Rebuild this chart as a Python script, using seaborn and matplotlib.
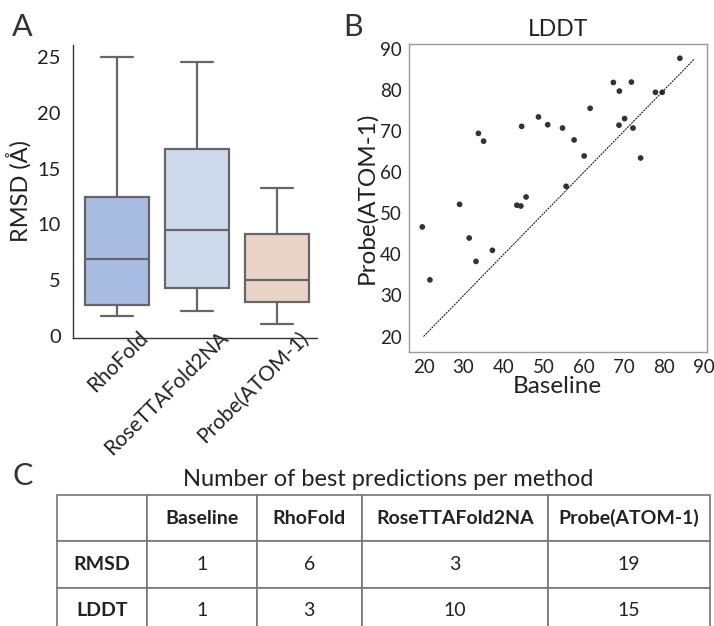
import numpy as np
import pandas as pd
import matplotlib
matplotlib.use("Agg")
import matplotlib.pyplot as plt
import matplotlib.transforms as mtransforms
import seaborn as sns

# Panel A: RMSD box summary (min, q1, median, q3, max)
methods = ["RhoFold", "RoseTTAFold2NA", "Probe(ATOM-1)"]
rhofold_rmsd = [1.8, 2.8, 6.9, 12.5, 25.0]
rosetta_rmsd = [2.25, 4.3, 9.5, 16.8, 24.55]
probe_rmsd = [1.1, 3.05, 5.0, 9.15, 13.3]
box_colors = ["#a8bde1", "#ccdaeb", "#e9d4c7"]

# Panel B: LDDT, baseline vs probe
baseline_lddt = [19.7, 21.6, 29.0, 31.4, 33.1, 33.7, 35.0, 37.2, 43.3, 44.3,
                 44.5, 45.6, 48.7, 51.0, 54.7, 55.6, 57.6, 60.1, 61.6, 67.4,
                 68.9, 68.8, 70.2, 71.9, 72.3, 74.2, 77.9, 79.6, 84.0]
probe_lddt = [46.7, 33.8, 52.2, 44.0, 38.3, 69.5, 67.6, 41.0, 52.0, 51.8,
              71.2, 54.0, 73.5, 71.6, 70.8, 56.6, 67.9, 64.0, 75.6, 81.9,
              79.8, 71.5, 73.1, 82.0, 70.8, 63.5, 79.5, 79.5, 87.8]

# Panel C: table
table_cols = ["Baseline", "RhoFold", "RoseTTAFold2NA", "Probe(ATOM-1)"]
table_rows = ["RMSD", "LDDT"]
rmsd_best = [1, 6, 3, 19]
lddt_best = [1, 3, 10, 15]

sns.set_style("white")
plt.rcParams["font.family"] = ["Lato", "DejaVu Sans"]
text_c = "#222222"

fig = plt.figure(figsize=(7.14, 6.26), dpi=100)
W, H = 714, 626

def px_axes(l, t, r, b):
    return fig.add_axes([l / W, 1 - b / H, (r - l) / W, (b - t) / H])

# ---- A ----
axA = px_axes(72.7, 45, 317, 338)
df = pd.DataFrame({
    "method": np.repeat(methods, 5),
    "rmsd": rhofold_rmsd + rosetta_rmsd + probe_rmsd,
})
line_c = "#666666"
sns.boxplot(data=df, x="method", y="rmsd", hue="method", palette=box_colors,
            legend=False, width=0.8, whis=np.inf, linewidth=1.6,
            linecolor=line_c, saturation=1, ax=axA)
axA.set_xlim(-0.55, 2.5)
axA.set_ylim(-0.2, 26.1)
axA.set_yticks([0, 5, 10, 15, 20, 25])
axA.set_xlabel("")
axA.set_ylabel("RMSD (Å)", fontsize=17, color=text_c, labelpad=4)
sns.despine(ax=axA)
for s in ["left", "bottom"]:
    axA.spines[s].set_color("#333333")
    axA.spines[s].set_linewidth(1.0)
axA.tick_params(axis="both", direction="out", length=5, width=1,
                color="#333333", labelcolor=text_c)
axA.tick_params(axis="y", labelsize=14.5)
axA.tick_params(axis="x", labelsize=15)
offset = mtransforms.ScaledTranslation(21 / 100, 22 / 100, fig.dpi_scale_trans)
for lab in axA.get_xticklabels():
    lab.set_rotation(45)
    lab.set_ha("right")
    lab.set_rotation_mode("anchor")
    lab.set_transform(lab.get_transform() + offset)

# ---- B ----
axB = px_axes(408.7, 44.3, 706.7, 351.7)
sns.scatterplot(x=baseline_lddt, y=probe_lddt, color="#333333", s=17,
                edgecolor="none", ax=axB)
axB.plot([20, 87.5], [20, 87.5], color="black", lw=0.7, ls=(0, (2, 1)))
axB.set_xlim(16.3, 90.7)
axB.set_ylim(16.3, 91.2)
axB.set_xticks(range(20, 91, 10))
axB.set_yticks(range(20, 91, 10))
for s in axB.spines.values():
    s.set_color("#999999")
    s.set_linewidth(1.0)
axB.tick_params(axis="both", direction="out", length=3, width=0.8,
                color="#999999", labelsize=13.5, labelcolor=text_c, pad=2)
axB.set_title("LDDT", fontsize=16.5, color=text_c, pad=6)
axB.set_xlabel("Baseline", fontsize=17.5, color=text_c, labelpad=0)
axB.set_ylabel("Probe(ATOM-1)", fontsize=17.5, color=text_c, labelpad=2)

# ---- C ----
axC = px_axes(57.3, 495, 710, 634)
axC.axis("off")
cell_text = [[""] + table_cols,
             [table_rows[0]] + [str(v) for v in rmsd_best],
             [table_rows[1]] + [str(v) for v in lddt_best]]
widths = np.array([89.4, 110, 105, 186.6, 161.7])
tab = axC.table(cellText=cell_text, colWidths=list(widths / widths.sum()),
                cellLoc="center", bbox=[0, 0, 1, 1])
tab.auto_set_font_size(False)
for (r, c), cell in tab.get_celld().items():
    cell.set_edgecolor("#777777")
    cell.set_linewidth(1.2)
    cell.get_text().set_color(text_c)
    cell.get_text().set_fontsize(14)
    if r == 0 or c == 0:
        cell.get_text().set_fontweight("bold")

fig.text(388 / W, 1 - 480 / H, "Number of best predictions per method",
         ha="center", va="center", fontsize=17, color=text_c)

# panel letters
for lab, x, y in [("A", 22, 27), ("B", 353, 27), ("C", 23, 476)]:
    fig.text(x / W, 1 - y / H, lab, ha="center", va="center", fontsize=22,
             color="#333333")

fig.savefig("out.png", dpi=100)
